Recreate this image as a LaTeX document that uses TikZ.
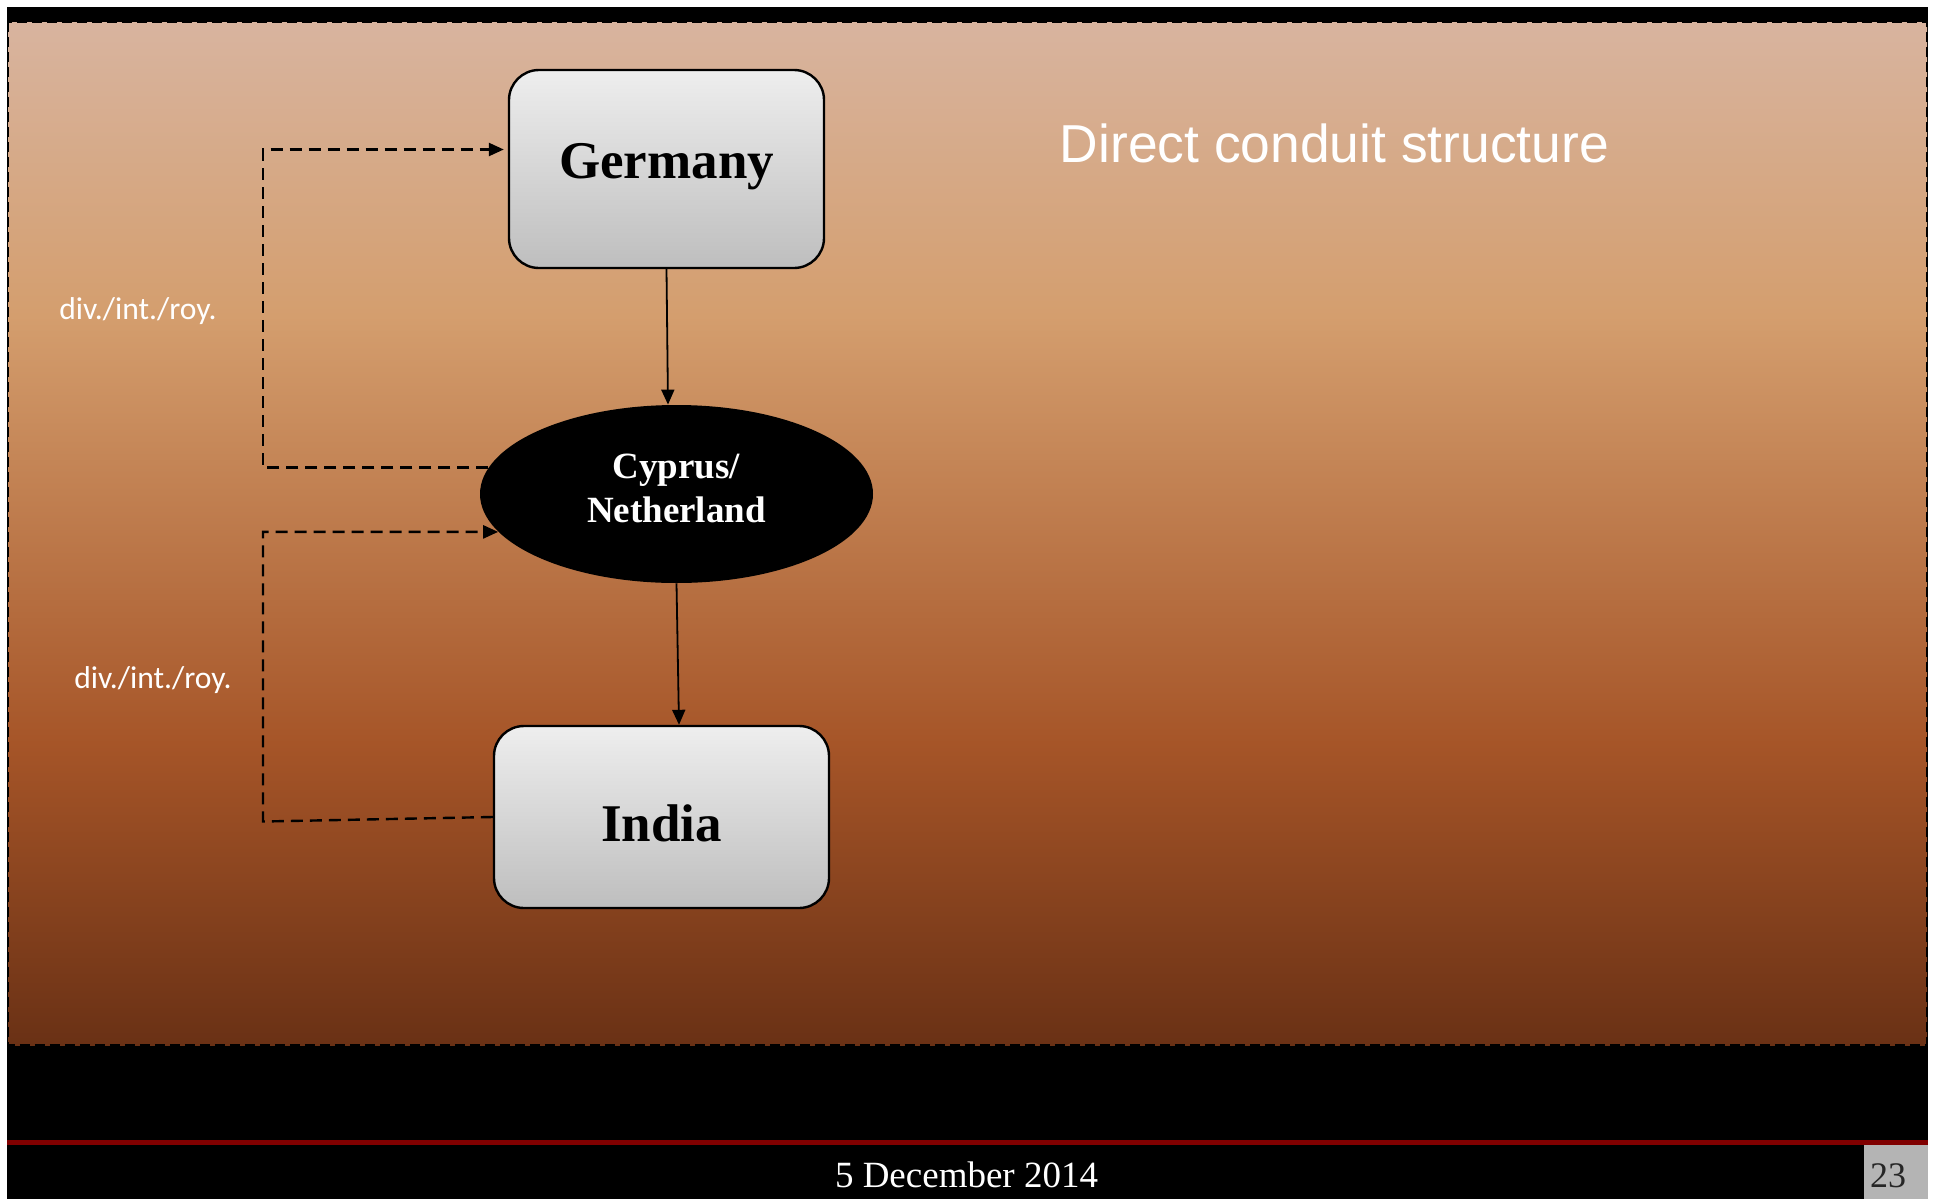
\documentclass[tikz,border=0pt]{standalone}
\usepackage{fontspec}
\setmainfont{Liberation Serif}
\newfontfamily\headfont{Liberation Sans}
\newfontfamily\notefont{Carlito}
\usetikzlibrary{shapes.geometric,arrows.meta}
\definecolor{bgTop}{RGB}{216,180,159}
\definecolor{bgMid}{RGB}{212,158,110}
\definecolor{bgRust}{RGB}{166,85,40}
\definecolor{bgBot}{RGB}{106,49,21}
\definecolor{boxTop}{RGB}{238,238,238}
\definecolor{boxBot}{RGB}{190,190,190}
\definecolor{footRed}{RGB}{128,0,0}
\definecolor{footGray}{RGB}{180,180,180}
\pgfdeclareverticalshading{slidebg}{100bp}{color(0bp)=(bgBot); color(25bp)=(bgBot); color(39.75bp)=(bgRust); color(60.65bp)=(bgMid); color(75bp)=(bgTop); color(100bp)=(bgTop)}
\tikzset{
    country/.style={draw, rectangle, rounded corners=15pt, line width=1.2pt, top color=boxTop, bottom color=boxBot, inner sep=0pt, font=\fontsize{26.5}{30}\selectfont\bfseries},
    hub/.style={ellipse, fill=black, text=white, inner sep=0pt, align=center, font=\fontsize{18.5}{22}\selectfont\bfseries},
    flow/.style={-{Triangle[length=7.5pt,width=6.5pt]}, line width=0.9pt},
    payment/.style={flow, line width=1.2pt, dash pattern=on 6pt off 3.5pt},
    note/.style={text=white, anchor=base, font=\notefont\fontsize{15.8}{18}\selectfont}
}
\begin{document}
\begin{tikzpicture}[x=0.5pt, y=-0.5pt]
    \useasboundingbox (0,0) rectangle (1937,1199);
    \fill[white] (0,0) rectangle (1937,1199);
    \fill[black] (7,7) rectangle (1928,1199);
    \draw[shading=slidebg, line width=0.75pt, dash pattern=on 5pt off 2.5pt] (8,22) rectangle (1927,1045);
    \fill[footRed] (7,1140) rectangle (1928,1145);
    \fill[footGray] (1864,1145) rectangle (1928,1199);

    \node[country, minimum width=157.5pt, minimum height=99pt, text depth=8pt] (germany) at (666.5,169) {Germany};
    \node[hub, minimum width=196.5pt, minimum height=89pt] (cyprus) at (676.5,494) {Cyprus/\\Netherland\rule[-6pt]{0pt}{6pt}};
    \node[country, minimum width=167.5pt, minimum height=91pt, text height=24pt, text depth=0pt] (india) at (661.5,817) {India};

    \node[anchor=base, text=white, font=\headfont\fontsize{26.7}{30}\selectfont] (title) at (1334.5,162) {Direct conduit structure};
    \node[note] (divA) at (138,319) {div./int./roy.};
    \node[note] (divB) at (153,688) {div./int./roy.};

    \coordinate (loopx) at (263,0);
    \coordinate (bendB) at (263,821.5);

    \draw[flow] (germany.south) -- ([xshift=-4.25pt]cyprus.north);
    \draw[flow] (cyprus.south) -- ([xshift=8.75pt]india.north);
    \draw[payment, shorten >=2pt] (cyprus.172) -- (cyprus.172 -| loopx) |- ([yshift=9.75pt]germany.west);
    \draw[payment] (india.west) -- (bendB) |- (cyprus.192);

    \node[anchor=base, text=white, font=\fontsize{18.5}{22}\selectfont] (date) at (966.5,1187) {5 December 2014};
    \node[anchor=base, text=black!85, font=\fontsize{18}{22}\selectfont] (pageno) at (1888,1187) {23};
\end{tikzpicture}
\end{document}
